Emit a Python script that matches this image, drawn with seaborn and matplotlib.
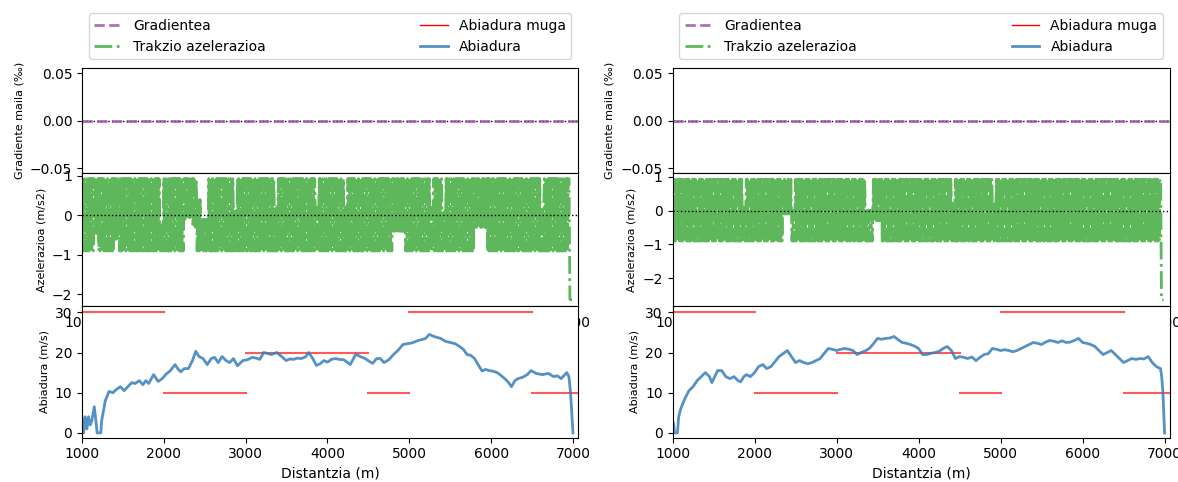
import matplotlib
matplotlib.use("Agg")
import matplotlib.pyplot as plt
from matplotlib.lines import Line2D
import seaborn as sns

# ---------------- data ----------------
dist_left = [1000, 1020, 1040, 1060, 1080, 1100, 1120, 1150, 1170, 1185, 1230, 1240, 1285, 1330, 1378, 1420,
             1470, 1515, 1560, 1608, 1650, 1700, 1745, 1780, 1815, 1875, 1930, 1980, 2022, 2080, 2137, 2170,
             2206, 2250, 2300, 2350, 2390, 2430, 2480, 2530, 2580, 2620, 2665, 2712, 2760, 2805, 2850, 2900,
             2966, 3020, 3081, 3130, 3173, 3219, 3260, 3311, 3380, 3440, 3495, 3540, 3587, 3630, 3680, 3730,
             3771, 3820, 3864, 3910, 3956, 4000, 4048, 4100, 4140, 4200, 4278, 4346, 4400, 4461, 4510, 4553,
             4600, 4645, 4691, 4750, 4806, 4860, 4922, 4970, 5014, 5060, 5106, 5150, 5198, 5244, 5300, 5383,
             5440, 5498, 5560, 5613, 5660, 5705, 5750, 5797, 5840, 5889, 5930, 5981, 6030, 6074, 6120, 6166,
             6210, 6248, 6290, 6326, 6380, 6441, 6487, 6550, 6625, 6700, 6763, 6810, 6855, 6900, 6924, 6950,
             6970, 6985, 7000]
speed_left = [4, 0, 4, 1, 4, 2, 3, 6.5, 3, 0, 0, 3, 8, 10.3, 10, 10.8,
              11.5, 10.5, 11.5, 12.5, 12.3, 13, 12, 13, 12.3, 14.5, 12.8, 13.5, 14.5, 15.5, 17, 16,
              15.2, 16, 16, 18, 20.3, 19, 18.5, 17, 18.5, 18.8, 17.5, 19, 18, 17.5, 18.5, 16.7,
              18, 18.2, 18.8, 18.6, 18.3, 20, 19.8, 19.5, 20, 19, 18, 18.4, 18.3, 18.6, 18.5, 18.9,
              20, 18.5, 16.8, 17.2, 18, 17.6, 18.3, 18.5, 18.3, 18.2, 17, 19.6, 19, 18.5, 17.8, 17.3,
              18.5, 18.5, 17.5, 18.2, 19.5, 20.5, 22, 22.2, 22.3, 22.6, 23, 23.2, 23.5, 24.5, 24, 23.5,
              22.8, 22.5, 22.2, 21.5, 20.8, 19.5, 19.3, 18.5, 17, 15.4, 15.8, 15.5, 15.3, 15, 14.3, 13.5,
              12.6, 11.5, 13, 13.5, 13.8, 14.5, 15.5, 14.8, 14.5, 14.8, 14, 14.2, 13.5, 14.5, 15, 14,
              10, 5, 0]

dist_right = [1000, 1012, 1025, 1060, 1075, 1100, 1150, 1200, 1250, 1300, 1350, 1400, 1450, 1480, 1550, 1600,
              1650, 1700, 1750, 1800, 1830, 1870, 1900, 1950, 2000, 2050, 2100, 2150, 2200, 2300, 2400, 2450,
              2500, 2550, 2600, 2650, 2700, 2750, 2800, 2850, 2900, 2950, 3000, 3050, 3100, 3150, 3200, 3250,
              3300, 3350, 3400, 3450, 3500, 3550, 3600, 3650, 3700, 3750, 3800, 3850, 3900, 3950, 4000, 4050,
              4100, 4150, 4200, 4250, 4300, 4350, 4400, 4450, 4500, 4550, 4600, 4650, 4700, 4750, 4800, 4850,
              4900, 4950, 5000, 5050, 5100, 5150, 5200, 5250, 5300, 5350, 5400, 5450, 5500, 5550, 5600, 5650,
              5700, 5750, 5800, 5850, 5900, 5950, 6000, 6050, 6100, 6150, 6200, 6250, 6300, 6350, 6400, 6450,
              6500, 6550, 6600, 6650, 6700, 6750, 6800, 6850, 6900, 6950, 6965, 6980, 7000]
speed_right = [3, 2.5, 0, 0, 4, 6, 8.5, 10.5, 11.5, 13, 14, 15, 14, 12.5, 15.5, 15.5,
               14, 13.5, 14, 13, 12.7, 14, 14.5, 14, 15, 16.5, 17, 16, 16.5, 19, 20.5, 19,
               17.5, 18, 17.5, 17.2, 17.5, 18, 18.5, 19.8, 21, 20.8, 20.5, 20.8, 21, 20.8, 20.5, 19.5,
               20, 20.4, 21, 22.2, 23.5, 23.3, 23.5, 23.6, 24, 23.2, 22.5, 22.3, 22, 21.6, 21, 19.5,
               19.5, 19.8, 20, 20.3, 21, 21.5, 20.5, 18.5, 19, 18.8, 18.5, 18.9, 18, 18.8, 19.5, 19.7,
               21, 20.8, 20.5, 20.7, 20.5, 20.2, 20.5, 21, 21.5, 22, 22.5, 22.3, 22, 22.6, 23, 22.8,
               22.5, 22.9, 22.5, 22.6, 23, 23.5, 22.5, 22.3, 22, 21.5, 20.5, 19.5, 20, 20.5, 19.5, 18.5,
               17.5, 18, 18.5, 18.3, 18.5, 18.4, 19, 17.5, 16.5, 16, 14, 10, 0]

limit_start = [1000, 2000, 3000, 4500, 5000, 6500]
limit_end = [2000, 3000, 4500, 5000, 6500, 7066]
limit_speed = [30, 10, 20, 10, 30, 10]

gradient_x = [1000, 7066]
gradient_val = [0.0, 0.0]

# traction acceleration: upper / lower envelope of the bang-bang signal, 50 m bins from 1000 m
acc_bin_x0 = 1000
acc_bin_w = 50
acc_hi_left = [.93, .93, .93, .93, .93, .93, .93, .93, .93, .93,
               .93, .93, .93, .93, .93, .93, .93, .93, .93, -.2,
               .93, .93, .93, .93, .93, .93, .93, .93, .4, -.1,
               -.1, .93, .93, .93, .93, .93, .93, .1, .93, .93,
               .93, .93, .93, .93, .93, .93, .93, .2, .93, .93,
               .93, .93, .93, .93, .93, .93, .93, .2, .93, .93,
               .93, .93, .93, .93, .2, .93, .93, .93, .93, .93,
               .93, .93, .93, .93, .93, .93, .93, .93, .93, .93,
               .93, .93, .93, .93, .93, .2, .93, .93, .1, .93,
               .93, .93, .93, .93, .93, .93, .93, .93, .93, .93,
               .93, .93, .93, .93, .93, .93, .93, .93, .93, .93,
               .93, .93, .2, .93, .93, .93, .93, .93, .93]
acc_lo_left = [-.9, -.9, -.9, -.45, -.9, -.9, -.9, -.9, -.6, -.9,
               -.9, -.9, -.9, -.9, -.9, -.9, -.9, -.9, -.9, -.9,
               -.9, -.9, -.9, -.9, -.9, -.1, -.05, -.3, -.9, -.9,
               -.9, -.9, -.9, -.9, -.9, -.9, -.9, -.9, -.9, -.9,
               -.9, -.9, -.9, -.9, -.9, -.9, -.9, -.9, -.9, -.9,
               -.9, -.9, -.9, -.9, -.9, -.9, -.9, -.9, -.9, -.9,
               -.9, -.9, -.9, -.9, -.9, -.9, -.9, -.9, -.9, -.9,
               -.9, -.9, -.9, -.9, -.9, -.9, -.4, -.4, -.4, -.9,
               -.9, -.9, -.9, -.9, -.9, -.9, -.9, -.9, -.9, -.9,
               -.9, -.9, -.9, -.9, -.9, -.9, -.3, -.3, -.3, -.9,
               -.9, -.9, -.9, -.9, -.9, -.9, -.9, -.9, -.9, -.9,
               -.9, -.9, -.9, -.9, -.9, -.9, -.9, -.9, -.9]
acc_hi_right = [.93, .93, .93, .93, .93, .93, .93, .93, .93, .93,
                .93, .93, .93, .93, .93, .93, .93, .1, .93, .93,
                .93, .93, .93, .93, .93, .93, .93, .93, .93, 0.0,
                .93, .93, .93, .93, .93, .93, .93, .93, .93, .93,
                .93, .93, .93, .93, .93, .93, .93, 0.0, 0.0, .93,
                .93, .93, .93, .93, .93, .93, .93, .93, .93, .93,
                .93, .93, .93, .93, .93, .93, .93, .93, .2, .93,
                .93, .93, .93, .93, .93, .93, .93, .93, .2, .93,
                .93, .93, .93, .93, .93, .93, .93, .93, .93, .93,
                .93, .93, .93, .93, .93, .93, .93, .93, .93, .93,
                .93, .93, .93, .93, .93, .93, .93, .93, .93, .93,
                .93, .93, .93, .93, .93, .93, .93, .93, .93]
acc_lo_right = [-.9, -.9, -.9, -.9, -.9, -.9, -.9, -.9, -.9, -.9,
                -.9, -.9, -.9, -.9, -.9, -.9, -.9, -.9, -.9, -.9,
                -.9, -.9, -.9, -.9, -.9, -.9, -.9, -.1, -.1, -.9,
                -.9, -.9, -.9, -.9, -.9, -.9, -.9, -.9, -.9, -.9,
                -.9, -.9, -.9, -.9, -.9, -.9, -.9, -.9, -.9, -.3,
                -.3, -.9, -.9, -.9, -.9, -.9, -.9, -.9, -.9, -.9,
                -.9, -.9, -.9, -.9, -.9, -.9, -.9, -.9, -.9, -.9,
                -.9, -.9, -.9, -.9, -.9, -.9, -.9, -.9, -.9, -.9,
                -.9, -.9, -.9, -.9, -.9, -.9, -.9, -.9, -.9, -.9,
                -.9, -.9, -.9, -.9, -.9, -.9, -.9, -.9, -.9, -.9,
                -.9, -.9, -.9, -.9, -.9, -.9, -.9, -.9, -.9, -.9,
                -.9, -.9, -.9, -.9, -.9, -.9, -.9, -.9, -.9]
acc_tail_x = [6952, 6962, 6988]
acc_tail_left = [0.93, -2.13, -2.13]
acc_tail_right = [0.93, -2.64, -2.64]

labels = ["Gradientea", "Trakzio azelerazioa", "Abiadura muga", "Abiadura"]

# ---------------- style ----------------
PURPLE = "#984ea3"
GREEN = "#4daf4a"
BLUE = "#377eb8"
RED = "red"
SUB = 7  # samples per 50 m bin (alternating upper / lower envelope)


def acc_series(hi, lo, tail_y):
    xs, ys = [], []
    step = acc_bin_w / SUB
    for i, (h, l) in enumerate(zip(hi, lo)):
        x0 = acc_bin_x0 + acc_bin_w * i
        for k in range(SUB):
            xs.append(x0 + k * step)
            ys.append(h if k % 2 == 0 else l)
    xs += acc_tail_x
    ys += tail_y
    return xs, ys


fig = plt.figure(figsize=(11.78, 4.82), dpi=100)
ratios = [105, 133, 132]
cols = [
    dict(left=0.0696, right=0.491, dist=dist_left, speed=speed_left,
         hi=acc_hi_left, lo=acc_lo_left, tail=acc_tail_left, ylim=(-2.29, 1.07)),
    dict(left=0.5709, right=0.9932, dist=dist_right, speed=speed_right,
         hi=acc_hi_right, lo=acc_lo_right, tail=acc_tail_right, ylim=(-2.82, 1.11)),
]
XLIM = (1000, 7066)

for c in cols:
    gs = fig.add_gridspec(3, 1, left=c["left"], right=c["right"], top=0.8583, bottom=0.0919,
                          hspace=0, height_ratios=ratios)
    ax_g = fig.add_subplot(gs[0])
    ax_a = fig.add_subplot(gs[1])
    ax_v = fig.add_subplot(gs[2])

    # gradient
    ax_g.axhline(0, color="k", linestyle=":", linewidth=1)
    sns.lineplot(x=gradient_x, y=gradient_val, ax=ax_g, color=PURPLE, linestyle="--",
                 linewidth=2, alpha=0.8)
    ax_g.set_xlim(*XLIM)
    ax_g.set_ylim(-0.055, 0.055)
    ax_g.set_yticks([-0.05, 0.0, 0.05])
    ax_g.set_ylabel("Gradiente maila (‰)", fontsize=8)
    ax_g.tick_params(labelbottom=False)

    # acceleration
    ax_x, ay = acc_series(c["hi"], c["lo"], c["tail"])
    sns.lineplot(x=ax_x, y=ay, ax=ax_a, color=GREEN, linestyle="-.", linewidth=2,
                 alpha=0.9, sort=False, estimator=None)
    ax_a.axhline(0, color="k", linestyle=":", linewidth=1)
    ax_a.set_xlim(*XLIM)
    ax_a.set_ylim(*c["ylim"])
    ax_a.set_yticks([-2, -1, 0, 1])
    ax_a.set_ylabel("Azelerazioa (m/s2)", fontsize=8)

    # speed
    for s, e, v in zip(limit_start, limit_end, limit_speed):
        sns.lineplot(x=[s, e], y=[v, v], ax=ax_v, color=RED, linewidth=1.5, alpha=0.65)
    sns.lineplot(x=c["dist"], y=c["speed"], ax=ax_v, color=BLUE, linewidth=2, alpha=0.85,
                 sort=False, estimator=None)
    ax_v.set_xlim(*XLIM)
    ax_v.set_ylim(-1.2, 31.6)
    ax_v.set_yticks([0, 10, 20, 30])
    ax_v.set_xticks([1000, 2000, 3000, 4000, 5000, 6000, 7000])
    ax_v.set_ylabel("Abiadura (m/s)", fontsize=8)
    ax_v.set_xlabel("Distantzia (m)")

    handles = [
        Line2D([], [], color=PURPLE, linestyle="--", linewidth=2, alpha=0.8),
        Line2D([], [], color=GREEN, linestyle="-.", linewidth=2, alpha=0.9),
        Line2D([], [], color=RED, linewidth=1),
        Line2D([], [], color=BLUE, linewidth=2, alpha=0.85),
    ]
    ax_g.legend(handles, labels, bbox_to_anchor=(0, 1.02, 1, 0.102), loc="lower left",
                ncol=2, mode="expand")

fig.savefig("out.png", dpi=100)
